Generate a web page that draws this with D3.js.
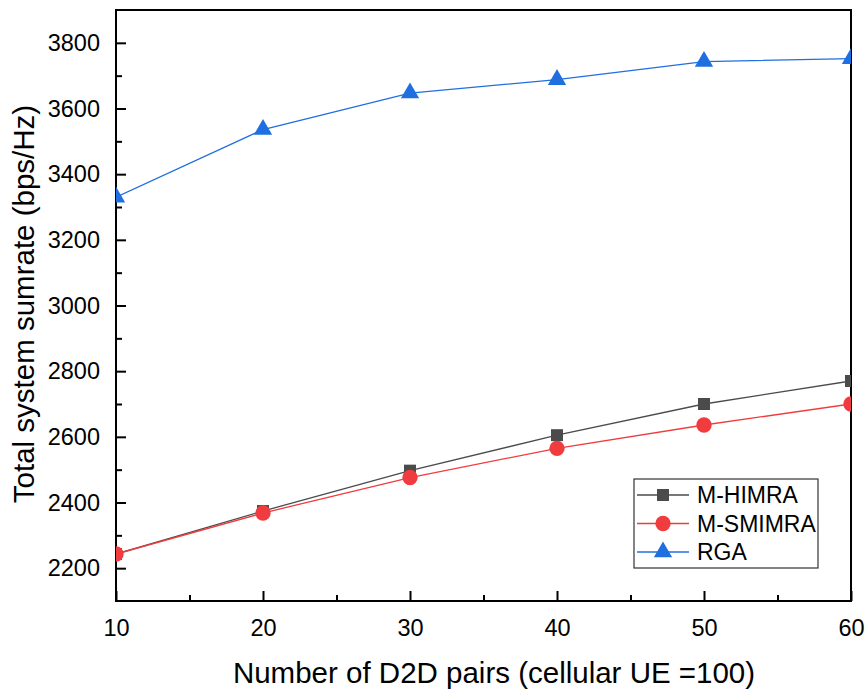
<!DOCTYPE html>
<html>
<head>
<meta charset="utf-8">
<script src="https://cdn.jsdelivr.net/npm/d3@7"></script>
<style>
  html, body { margin: 0; padding: 0; background: #fff; }
  svg { display: block; font-family: "Liberation Sans", Arial, sans-serif; }
</style>
</head>
<body>
<svg id="chart" width="867" height="690"></svg>
<script>
// D2D pair counts on the x axis
const d2dPairs = [10, 20, 30, 40, 50, 60];

// Total system sum rate (bps/Hz) per scheme
const mHimra  = [2243, 2374, 2497, 2605, 2700, 2770];
const mSmimra = [2243, 2368, 2476, 2565, 2636, 2700];
const rga     = [3330, 3536, 3647, 3688, 3743, 3752];

const xTicks = [10, 20, 30, 40, 50, 60];
const yTicks = [2200, 2400, 2600, 2800, 3000, 3200, 3400, 3600, 3800];

const seriesNames  = ["M-HIMRA", "M-SMIMRA", "RGA"];
const seriesValues = [mHimra, mSmimra, rga];
const seriesColors = ["#4b4b4b", "#f03c3e", "#1f6fe0"];
const seriesShapes = [d3.symbolSquare, d3.symbolCircle, d3.symbolTriangle];
const shapeSizes   = [144, 185, 145];

const svg = d3.select("#chart");
const plotL = 116, plotR = 851, plotT = 10, plotB = 601;

const x = d3.scaleLinear().domain([10, 60]).range([plotL, plotR]);
const y = d3.scaleLinear().domain([2100, 3900]).range([plotB, plotT]);

const tickFont = 23.5, titleFont = 29.5, legendFont = 23;

// plot frame
svg.append("rect")
  .attr("x", plotL).attr("y", plotT)
  .attr("width", plotR - plotL).attr("height", plotB - plotT)
  .attr("fill", "none").attr("stroke", "#000").attr("stroke-width", 2);

// clip so markers at the edges are cut by the frame
svg.append("clipPath").attr("id", "plotClip")
  .append("rect").attr("x", plotL).attr("y", plotT)
  .attr("width", plotR - plotL).attr("height", plotB - plotT);

// x axis: inward major and minor ticks
const xAxis = svg.append("g").attr("transform", `translate(0,${plotB})`);
xAxis.call(d3.axisBottom(x).tickValues(xTicks).tickSize(-10).tickPadding(18)
  .tickFormat(d3.format("d")));
xAxis.append("g").call(d3.axisBottom(x).tickValues([15, 25, 35, 45, 55]).tickSize(-6).tickFormat(""));
xAxis.selectAll(".domain").remove();
xAxis.selectAll("line").attr("stroke", "#000").attr("stroke-width", 2);
xAxis.selectAll("text").attr("font-size", tickFont).attr("fill", "#000")
  .attr("font-family", "Liberation Sans, Arial, sans-serif");

// y axis: inward major and minor ticks
const yAxis = svg.append("g").attr("transform", `translate(${plotL},0)`);
yAxis.call(d3.axisLeft(y).tickValues(yTicks).tickSize(-10).tickPadding(16)
  .tickFormat(d3.format("d")));
yAxis.append("g").call(d3.axisLeft(y)
  .tickValues([2300, 2500, 2700, 2900, 3100, 3300, 3500, 3700]).tickSize(-6).tickFormat(""));
yAxis.selectAll(".domain").remove();
yAxis.selectAll("line").attr("stroke", "#000").attr("stroke-width", 2);
yAxis.selectAll("text").attr("font-size", tickFont).attr("fill", "#000")
  .attr("font-family", "Liberation Sans, Arial, sans-serif");

// axis titles
svg.append("text")
  .attr("x", 494).attr("y", 683)
  .attr("text-anchor", "middle").attr("font-size", titleFont)
  .text("Number of D2D pairs (cellular UE =100)");
svg.append("text")
  .attr("transform", `translate(34,304) rotate(-90)`)
  .attr("text-anchor", "middle").attr("font-size", titleFont)
  .text("Total system sumrate (bps/Hz)");

// series lines and markers
const line = d3.line().x((d, i) => x(d2dPairs[i])).y(d => y(d));
const plot = svg.append("g").attr("clip-path", "url(#plotClip)");
seriesValues.forEach((vals, k) => {
  plot.append("path").datum(vals)
    .attr("d", line).attr("fill", "none")
    .attr("stroke", seriesColors[k]).attr("stroke-width", 1.3);
  plot.selectAll(null).data(vals).enter().append("path")
    .attr("transform", (d, i) => `translate(${x(d2dPairs[i])},${y(d)})`)
    .attr("d", d3.symbol().type(seriesShapes[k]).size(shapeSizes[k]))
    .attr("fill", seriesColors[k]);
});

// legend
const lg = svg.append("g").attr("transform", "translate(634,479)");
lg.append("rect").attr("width", 184).attr("height", 89)
  .attr("fill", "#fff").attr("stroke", "#333").attr("stroke-width", 1.2);
seriesNames.forEach((name, k) => {
  const cy = 16 + k * 28.5;
  lg.append("line").attr("x1", 3).attr("x2", 55).attr("y1", cy).attr("y2", cy)
    .attr("stroke", seriesColors[k]).attr("stroke-width", 1.3);
  lg.append("path").attr("transform", `translate(29,${cy})`)
    .attr("d", d3.symbol().type(seriesShapes[k]).size(shapeSizes[k]))
    .attr("fill", seriesColors[k]);
  lg.append("text").attr("x", 63).attr("y", cy).attr("dy", "0.36em")
    .attr("font-size", legendFont).text(name);
});
</script>
</body>
</html>
